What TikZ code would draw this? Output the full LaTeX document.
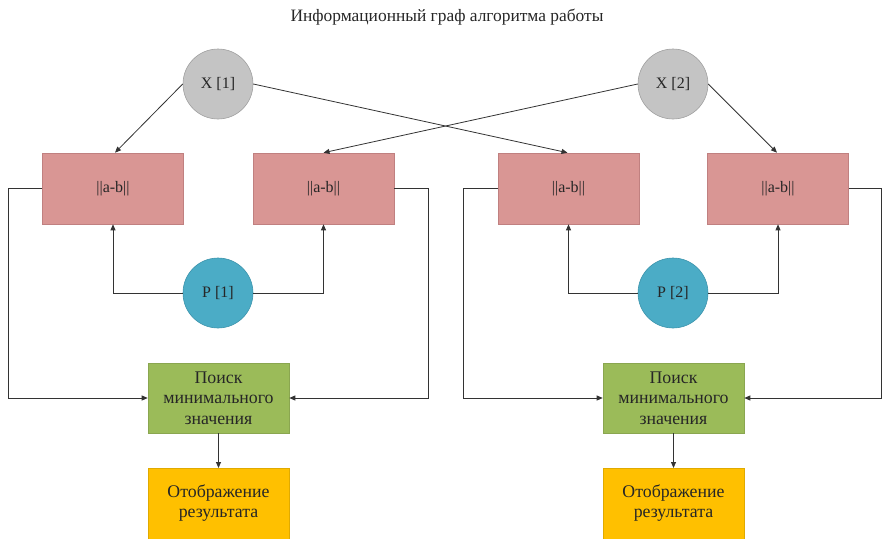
\documentclass[tikz,border=0pt]{standalone}
\usepackage{fontspec}
\setmainfont{Liberation Serif}
\usetikzlibrary{arrows.meta,calc}
\definecolor{xgray}{HTML}{C4C4C4}
\definecolor{xgrayd}{HTML}{A0A0A0}
\definecolor{pinkf}{HTML}{D99694}
\definecolor{pinkd}{HTML}{C08080}
\definecolor{bluef}{HTML}{4BACC6}
\definecolor{blued}{HTML}{3C94AC}
\definecolor{greenf}{HTML}{9BBB59}
\definecolor{greend}{HTML}{8AA650}
\definecolor{yellowf}{HTML}{FFC000}
\definecolor{yellowd}{HTML}{E0AA00}
\begin{document}
\begin{tikzpicture}[x=1pt,y=-1pt,
  every node/.style={font=\fontsize{16}{20.7}\selectfont, text=black!85},
  cyr/.style={font=\fontsize{17.8}{20.7}\selectfont},
  xcirc/.style={circle, fill=xgray, draw=xgrayd, line width=0.6pt, minimum size=70pt, inner sep=0pt},
  pcirc/.style={circle, fill=bluef, draw=blued, line width=0.6pt, minimum size=70pt, inner sep=0pt},
  absbox/.style={rectangle, fill=pinkf, draw=pinkd, line width=0.6pt, minimum width=141pt, minimum height=71pt, inner sep=0pt},
  minbox/.style={rectangle, fill=greenf, draw=greend, line width=0.6pt, minimum width=141pt, minimum height=70pt, inner sep=0pt, align=center, cyr},
  resbox/.style={rectangle, fill=yellowf, draw=yellowd, line width=0.6pt, minimum width=141pt, minimum height=75pt, inner sep=0pt, cyr},
  conn/.style={draw=black!80, line width=0.8pt},
  arr/.style={conn, -{Triangle[length=6pt,width=5pt]}}
]
\useasboundingbox (0,0) rectangle (883,538);

\node[font=\fontsize{17.4}{20}\selectfont] (title) at (447,17) {Информационный граф алгоритма работы};

\node[xcirc] (X1) at (218,84) {X [1]};
\node[xcirc] (X2) at (673,84) {X [2]};

\node[absbox] (B1) at (113,188.5) {||a-b||};
\node[absbox] (B2) at (323.5,188.5) {||a-b||};
\node[absbox] (B3) at (568.5,188.5) {||a-b||};
\node[absbox] (B4) at (778,188.5) {||a-b||};

\node[pcirc] (P1) at (218,293) {P [1]};
\node[pcirc] (P2) at (673,293) {P [2]};

\node[minbox] (G1) at (218.5,398) {Поиск\\минимального\\значения};
\node[minbox] (G2) at (673.5,398) {Поиск\\минимального\\значения};

\node[resbox, anchor=north] (R1) at (218.5,468) {};
\node[resbox, anchor=north] (R2) at (673.5,468) {};
\node[cyr, align=center] (T1) at (218.5,503) {Отображение\\результата};
\node[cyr, align=center] (T2) at (673.5,503) {Отображение\\результата};

% connectors from X nodes
\draw[arr] (X1.west) -- ($(B1.north)+(2,0)$);
\draw[arr] (X1.east) -- ($(B3.north)+(-1,0)$);
\draw[arr] (X2.west) -- (B2.north);
\draw[arr] (X2.east) -- ($(B4.north)+(-1,0)$);

% P connectors
\draw[arr] (P1.west) -| (B1.south);
\draw[arr] (P1.east) -| (B2.south);
\draw[arr] (P2.west) -| (B3.south);
\draw[arr] (P2.east) -| (B4.south);

% loops to min boxes
\coordinate (L1) at (8,188.5);
\coordinate (L2) at (428,188.5);
\coordinate (L3) at (463,188.5);
\coordinate (L4) at (881.5,188.5);
\draw[arr] (B1.west) -- (L1) |- (G1.west);
\draw[arr] (B2.east) -- (L2) |- (G1.east);
\draw[arr] (B3.west) -- (L3) |- (G2.west);
\draw[arr] (B4.east) -- (L4) |- (G2.east);

% min to result
\draw[arr] (G1.south) -- (R1.north);
\draw[arr] (G2.south) -- (R2.north);
\end{tikzpicture}
\end{document}
